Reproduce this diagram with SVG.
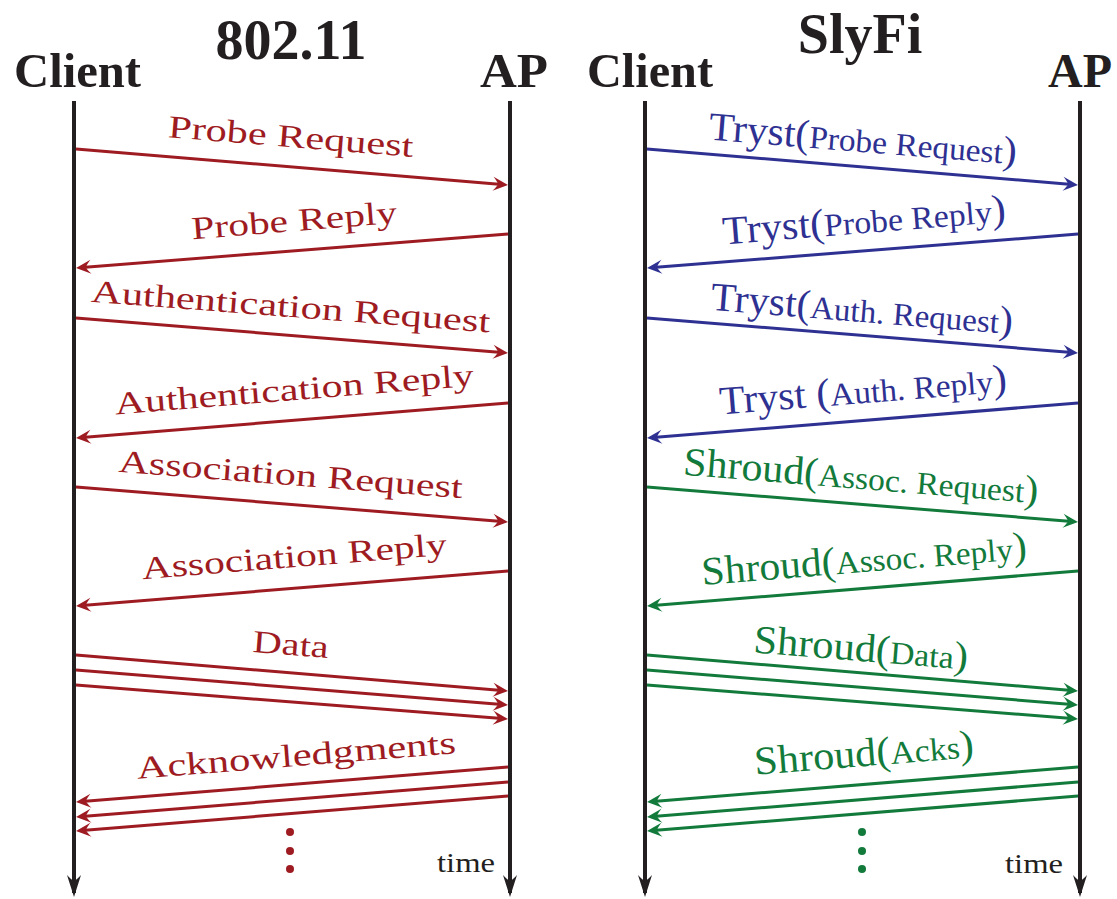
<svg xmlns="http://www.w3.org/2000/svg" width="1117" height="899" viewBox="0 0 1117 899">
  <style>
    .head { font-family: "Liberation Serif", "Times New Roman", serif; font-weight: bold; fill: #231f20; }
    .title { font-size: 56px; text-anchor: middle; }
    .actor { font-size: 48px; }
    .lbl { font-family: "Liberation Serif", "Times New Roman", serif; font-size: 32px; text-anchor: middle; }
    .big { font-size: 40px; }
    .time { font-family: "Liberation Serif", "Times New Roman", serif; font-size: 28px; fill: #231f20; }
    .life { stroke: #231f20; stroke-width: 4; fill: none; }
    .msg { stroke-width: 3; fill: none; }
    .red { fill: #9e1b22; }
    .blue { fill: #2e3192; }
    .green { fill: #127a3a; }
    .msg.red { stroke: #9e1b22; fill: none; }
    .msg.blue { stroke: #2e3192; fill: none; }
    .msg.green { stroke: #127a3a; fill: none; }
  </style>
  <defs>
    <marker id="ah-red" markerUnits="userSpaceOnUse" markerWidth="24" markerHeight="24" viewBox="-12 -12 24 24" refX="0" refY="0" orient="auto">
      <path d="M6,0 L-9,-7 Q-4.5,-2 -4,0 Q-4.5,2 -9,7 Z" fill="#9e1b22"/>
    </marker>
    <marker id="ah-blue" markerUnits="userSpaceOnUse" markerWidth="24" markerHeight="24" viewBox="-12 -12 24 24" refX="0" refY="0" orient="auto">
      <path d="M6,0 L-9,-7 Q-4.5,-2 -4,0 Q-4.5,2 -9,7 Z" fill="#2e3192"/>
    </marker>
    <marker id="ah-green" markerUnits="userSpaceOnUse" markerWidth="24" markerHeight="24" viewBox="-12 -12 24 24" refX="0" refY="0" orient="auto">
      <path d="M6,0 L-9,-7 Q-4.5,-2 -4,0 Q-4.5,2 -9,7 Z" fill="#127a3a"/>
    </marker>
    <marker id="ah-time" markerUnits="userSpaceOnUse" markerWidth="30" markerHeight="30" viewBox="-20 -15 30 30" refX="0" refY="0" orient="auto">
      <path d="M4,0 L-18,-7 Q-13,-2.5 -12,0 Q-13,2.5 -18,7 Z" fill="#231f20"/>
    </marker>
  </defs>

  <!-- headings -->
  <g id="headings">
    <text class="head title" x="291" y="59">802.11</text>
    <text class="head title" x="860" y="53">SlyFi</text>
  </g>

  <!-- 802.11 participants -->
  <g id="std-client">
    <text class="head actor" x="14" y="87" textLength="127" lengthAdjust="spacingAndGlyphs">Client</text>
    <line class="life" x1="74" y1="101" x2="74" y2="893" marker-end="url(#ah-time)"/>
  </g>
  <g id="std-ap">
    <text class="head actor" x="480" y="87" textLength="68" lengthAdjust="spacingAndGlyphs">AP</text>
    <line class="life" x1="510" y1="101" x2="510" y2="893" marker-end="url(#ah-time)"/>
    <text class="time" x="437" y="872" textLength="58" lengthAdjust="spacingAndGlyphs">time</text>
  </g>

  <!-- SlyFi participants -->
  <g id="sly-client">
    <text class="head actor" x="587" y="87" textLength="126" lengthAdjust="spacingAndGlyphs">Client</text>
    <line class="life" x1="645" y1="101" x2="645" y2="893" marker-end="url(#ah-time)"/>
  </g>
  <g id="sly-ap">
    <text class="head actor" x="1048" y="87" textLength="64" lengthAdjust="spacingAndGlyphs">AP</text>
    <line class="life" x1="1080" y1="101" x2="1080" y2="893" marker-end="url(#ah-time)"/>
    <text class="time" x="1005" y="873" textLength="58" lengthAdjust="spacingAndGlyphs">time</text>
  </g>

  <!-- 802.11 message exchange -->
  <g id="std-messages">
    <line class="msg red" x1="76" y1="149" x2="502" y2="184.5" marker-end="url(#ah-red)"/>
    <line class="msg red" x1="508" y1="234" x2="82" y2="267.5" marker-end="url(#ah-red)"/>
    <line class="msg red" x1="76" y1="318" x2="502" y2="352.5" marker-end="url(#ah-red)"/>
    <line class="msg red" x1="508" y1="403" x2="82" y2="437.5" marker-end="url(#ah-red)"/>
    <line class="msg red" x1="76" y1="487" x2="502" y2="521.5" marker-end="url(#ah-red)"/>
    <line class="msg red" x1="508" y1="571" x2="82" y2="605.5" marker-end="url(#ah-red)"/>
    <line class="msg red" x1="76" y1="655" x2="502" y2="690.5" marker-end="url(#ah-red)"/>
    <line class="msg red" x1="76" y1="670" x2="502" y2="704.5" marker-end="url(#ah-red)"/>
    <line class="msg red" x1="76" y1="685" x2="502" y2="718.5" marker-end="url(#ah-red)"/>
    <line class="msg red" x1="508" y1="767" x2="82" y2="801.5" marker-end="url(#ah-red)"/>
    <line class="msg red" x1="508" y1="782" x2="82" y2="816.5" marker-end="url(#ah-red)"/>
    <line class="msg red" x1="508" y1="796" x2="82" y2="830.5" marker-end="url(#ah-red)"/>
    <circle class="red" cx="290" cy="832" r="4"/>
    <circle class="red" cx="290" cy="851" r="4"/>
    <circle class="red" cx="290" cy="869" r="4"/>
  </g>
  <g id="std-labels">
    <text class="lbl red" transform="translate(290,147) rotate(4.6)" textLength="246" lengthAdjust="spacingAndGlyphs">Probe Request</text>
    <text class="lbl red" transform="translate(295,231) rotate(-4.6)" textLength="206" lengthAdjust="spacingAndGlyphs">Probe Reply</text>
    <text class="lbl red" transform="translate(290,317) rotate(4.4)" textLength="400" lengthAdjust="spacingAndGlyphs">Authentication Request</text>
    <text class="lbl red" transform="translate(295,400) rotate(-4.6)" textLength="360" lengthAdjust="spacingAndGlyphs">Authentication Reply</text>
    <text class="lbl red" transform="translate(290,485) rotate(4.4)" textLength="345" lengthAdjust="spacingAndGlyphs">Association Request</text>
    <text class="lbl red" transform="translate(295,567) rotate(-4.6)" textLength="306" lengthAdjust="spacingAndGlyphs">Association Reply</text>
    <text class="lbl red" transform="translate(290,655) rotate(4.6)" textLength="76" lengthAdjust="spacingAndGlyphs">Data</text>
    <text class="lbl red" transform="translate(297,766) rotate(-4.6)" textLength="320" lengthAdjust="spacingAndGlyphs">Acknowledgments</text>
  </g>

  <!-- SlyFi message exchange -->
  <g id="sly-messages">
    <line class="msg blue" x1="647" y1="149" x2="1072" y2="184.5" marker-end="url(#ah-blue)"/>
    <line class="msg blue" x1="1078" y1="234" x2="653" y2="267.5" marker-end="url(#ah-blue)"/>
    <line class="msg blue" x1="647" y1="318" x2="1072" y2="352.5" marker-end="url(#ah-blue)"/>
    <line class="msg blue" x1="1078" y1="403" x2="653" y2="437.5" marker-end="url(#ah-blue)"/>
    <line class="msg green" x1="647" y1="487" x2="1072" y2="521.5" marker-end="url(#ah-green)"/>
    <line class="msg green" x1="1078" y1="571" x2="653" y2="605.5" marker-end="url(#ah-green)"/>
    <line class="msg green" x1="647" y1="655" x2="1072" y2="690.5" marker-end="url(#ah-green)"/>
    <line class="msg green" x1="647" y1="670" x2="1072" y2="704.5" marker-end="url(#ah-green)"/>
    <line class="msg green" x1="647" y1="685" x2="1072" y2="718.5" marker-end="url(#ah-green)"/>
    <line class="msg green" x1="1078" y1="767" x2="653" y2="801.5" marker-end="url(#ah-green)"/>
    <line class="msg green" x1="1078" y1="782" x2="653" y2="816.5" marker-end="url(#ah-green)"/>
    <line class="msg green" x1="1078" y1="796" x2="653" y2="830.5" marker-end="url(#ah-green)"/>
    <circle class="green" cx="862" cy="832" r="4"/>
    <circle class="green" cx="862" cy="851" r="4"/>
    <circle class="green" cx="862" cy="869" r="4"/>
  </g>
  <g id="sly-labels">
    <text class="lbl blue" transform="translate(862,152) rotate(4.6)" textLength="309" lengthAdjust="spacingAndGlyphs"><tspan class="big">Tryst(</tspan>Probe Request<tspan class="big">)</tspan></text>
    <text class="lbl blue" transform="translate(865,233) rotate(-4.6)" textLength="284" lengthAdjust="spacingAndGlyphs"><tspan class="big">Tryst(</tspan>Probe Reply<tspan class="big">)</tspan></text>
    <text class="lbl blue" transform="translate(861,322) rotate(4.6)" textLength="303" lengthAdjust="spacingAndGlyphs"><tspan class="big">Tryst(</tspan>Auth. Request<tspan class="big">)</tspan></text>
    <text class="lbl blue" transform="translate(864,403) rotate(-4.6)" textLength="288" lengthAdjust="spacingAndGlyphs"><tspan class="big">Tryst (</tspan>Auth. Reply<tspan class="big">)</tspan></text>
    <text class="lbl green" transform="translate(860,489) rotate(4.6)" textLength="356" lengthAdjust="spacingAndGlyphs"><tspan class="big">Shroud(</tspan>Assoc. Request<tspan class="big">)</tspan></text>
    <text class="lbl green" transform="translate(865,572) rotate(-4.6)" textLength="326" lengthAdjust="spacingAndGlyphs"><tspan class="big">Shroud(</tspan>Assoc. Reply<tspan class="big">)</tspan></text>
    <text class="lbl green" transform="translate(860,661) rotate(4.6)" textLength="215" lengthAdjust="spacingAndGlyphs"><tspan class="big">Shroud(</tspan>Data<tspan class="big">)</tspan></text>
    <text class="lbl green" transform="translate(865,766) rotate(-4.6)" textLength="220" lengthAdjust="spacingAndGlyphs"><tspan class="big">Shroud(</tspan>Acks<tspan class="big">)</tspan></text>
  </g>
</svg>
